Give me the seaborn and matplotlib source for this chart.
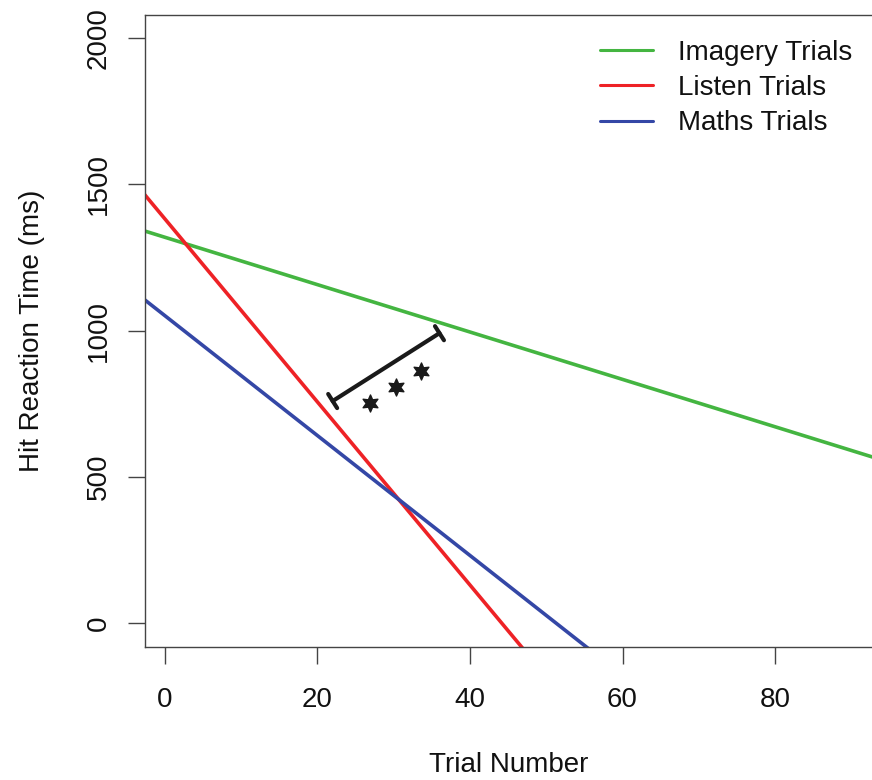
import numpy as np
import pandas as pd
import matplotlib
matplotlib.use("Agg")
import matplotlib.pyplot as plt
import seaborn as sns

# Fitted regression lines (RT = intercept + slope * trial)
conditions = ["Imagery Trials", "Listen Trials", "Maths Trials"]
intercepts = [1319, 1382, 1051]
slopes = [-8.1, -31.3, -20.5]
line_colors = ["#44b541", "#ee2226", "#3447a6"]

# significance bracket and stars
bracket_x = [22.0, 36.0]
bracket_y = [759, 991]
star_x = [26.9, 30.3, 33.6]
star_y = [752, 807, 861]

x_ticks = [0, 20, 40, 60, 80]
y_ticks = [0, 500, 1000, 1500, 2000]

# Build a long table of line endpoints (span beyond axis, clipped by limits)
trial_span = [-5, 100]
rows = []
for cond, b0, b1 in zip(conditions, intercepts, slopes):
    for t in trial_span:
        rows.append({"Trial": t, "RT": b0 + b1 * t, "Condition": cond})
df = pd.DataFrame(rows)

sns.set_style("white")
plt.rcParams["font.family"] = ["Liberation Sans", "DejaVu Sans"]
plt.rcParams["axes.edgecolor"] = "#444444"
plt.rcParams["axes.linewidth"] = 1.0
plt.rcParams["text.color"] = "#111111"
plt.rcParams["axes.labelcolor"] = "#111111"

fig = plt.figure(figsize=(8.72, 7.8), dpi=100)
ax = fig.add_axes([0.1663, 0.1705, 0.8337, 0.8103])

palette = dict(zip(conditions, line_colors))
sns.lineplot(data=df, x="Trial", y="RT", hue="Condition", palette=palette,
             hue_order=conditions, linewidth=2.6, ax=ax)

ax.annotate("", xy=(bracket_x[1], bracket_y[1]), xytext=(bracket_x[0], bracket_y[0]),
            arrowprops=dict(arrowstyle="|-|, widthA=0.6, widthB=0.6",
                            lw=3, color="#1a1a1a", shrinkA=0, shrinkB=0))
ax.scatter(star_x, star_y, marker=(6, 1, 0), s=150, color="#1a1a1a", zorder=5)

ax.set_xlim(-2.6, 92.7)
ax.set_ylim(-82, 2079)
ax.set_xticks(x_ticks)
ax.set_yticks(y_ticks)
ax.tick_params(axis="both", direction="out", length=12, width=1.0,
               color="#444444", labelsize=20, labelcolor="#111111",
               bottom=True, left=True)
ax.tick_params(axis="x", pad=17)
ax.tick_params(axis="y", pad=12)
for lab in ax.get_yticklabels():
    lab.set_rotation(90)
    lab.set_va("center")
ax.spines["right"].set_visible(False)

ax.set_xlabel("Trial Number", fontsize=20, labelpad=28)
ax.set_ylabel("Hit Reaction Time (ms)", fontsize=20, labelpad=29)

leg = ax.legend(loc="upper right", frameon=False, fontsize=20,
                handlelength=1.9, handletextpad=0.9, labelspacing=0.33,
                bbox_to_anchor=(1.007, 1.0))
for h in leg.get_lines():
    h.set_linewidth(2.2)

fig.savefig("out.png", dpi=100)
